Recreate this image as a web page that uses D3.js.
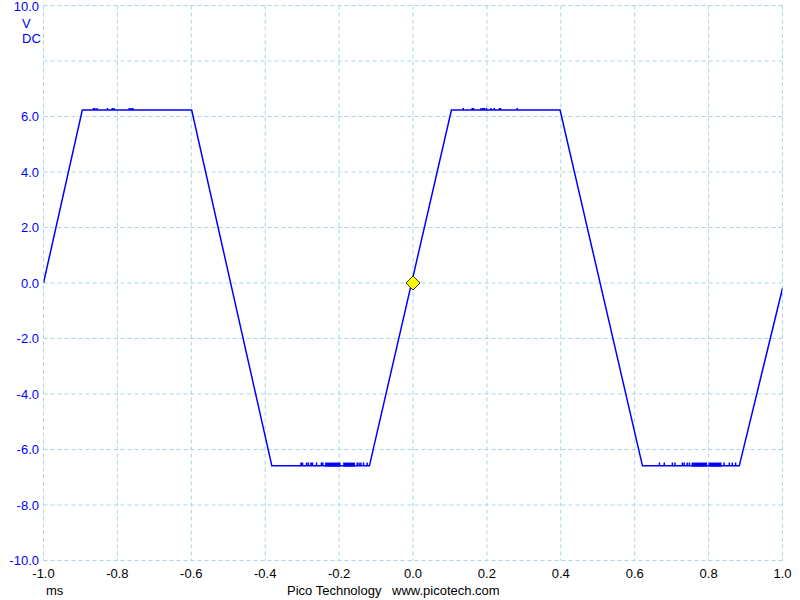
<!DOCTYPE html>
<html><head><meta charset="utf-8">
<script src="https://cdn.jsdelivr.net/npm/d3@7"></script>
<style>html,body{margin:0;padding:0;background:#fff;}svg{display:block;}</style>
</head><body>
<script>
// ---- data ----
const xTicks = [-1.0,-0.8,-0.6,-0.4,-0.2,0.0,0.2,0.4,0.6,0.8,1.0];
const yTicks = [10,8,6,4,2,0,-2,-4,-6,-8,-10];
const yLabelTicks = [10,6,4,2,0,-2,-4,-6,-8,-10];   // 8.0 is replaced by the unit labels
const unitLabels = ["V", "DC"];
// trace breakpoints (ms, V)
const traceTime  = [-1.0, -0.895, -0.599, -0.382, -0.118, 0.104, 0.398, 0.621, 0.883, 1.0];
const traceVolts = [ 0.0,  6.23,   6.23,  -6.59,  -6.59,  6.23,  6.23, -6.59, -6.59, -0.19];
const topLevel = 6.23, topGlitch = 6.31;
const botLevel = -6.59, botGlitch = -6.47;
// single-sample glitches on plateaus (ms)
const topGlitchTimes = [-0.865,-0.861,-0.855,-0.827,-0.814,-0.809,-0.768,-0.763,-0.758,
                        0.136,0.160,0.164,0.184,0.189,0.193,0.199,0.211,0.220,0.234,0.237,0.282];
const botGlitchTimes = [-0.303,-0.299,-0.288,-0.283,-0.276,-0.272,-0.261,-0.248,-0.244,
                        -0.151,-0.146,-0.141,-0.134,-0.124,
                        0.667,0.680,0.702,0.709,0.729,0.734,0.742,0.748,0.842,0.856,0.864,0.873];
// dense glitch bands on the low plateau (ms start, ms end)
const botGlitchBands = [[-0.238,-0.196],[-0.189,-0.157],[0.754,0.796],[0.800,0.835]];
const trigger = {t: 0.0, v: 0.0};

// ---- chart ----
const W = 800, H = 600;
const svg = d3.select("body").append("svg").attr("width", W).attr("height", H);
const x = d3.scaleLinear().domain([-1, 1]).range([43.5, 782.5]);
const y = d3.scaleLinear().domain([-10, 10]).range([560.5, 5.5]);
const gridColor = "#a6d6e3";
const font = "'Liberation Sans', Arial, sans-serif";

// grid
svg.append("g").selectAll("line").data(xTicks).join("line")
  .attr("x1", d => x(d)).attr("x2", d => x(d)).attr("y1", y(10)).attr("y2", y(-10))
  .attr("stroke", gridColor).attr("stroke-width", 1).attr("stroke-dasharray", "4,3");
svg.append("g").selectAll("line").data(yTicks).join("line")
  .attr("y1", d => y(d)).attr("y2", d => y(d)).attr("x1", x(-1)).attr("x2", x(1))
  .attr("stroke", gridColor).attr("stroke-width", 1).attr("stroke-dasharray", "4,3");

// y labels
svg.append("g").selectAll("text").data(yLabelTicks).join("text")
  .attr("x", 39).attr("y", d => Math.max(y(d), 6.5)).attr("dy", "0.35em")
  .attr("text-anchor", "end").attr("font-family", font).attr("font-size", 13)
  .attr("fill", "#0000ff").text(d => d.toFixed(1));
svg.append("g").selectAll("text").data(unitLabels).join("text")
  .attr("x", 22).attr("y", (d, i) => 27.5 + i * 15.5)
  .attr("font-family", font).attr("font-size", 13).attr("fill", "#0000ff").text(d => d);

// x labels
svg.append("g").selectAll("text").data(xTicks).join("text")
  .attr("x", d => x(d)).attr("y", 578).attr("text-anchor", "middle")
  .attr("font-family", font).attr("font-size", 13).attr("fill", "#000").text(d => d.toFixed(1));
svg.append("text").attr("x", 46).attr("y", 595).attr("font-family", font).attr("font-size", 13)
  .attr("fill", "#000").text("ms");
svg.append("text").attr("x", 287).attr("y", 595).attr("font-family", font).attr("font-size", 13)
  .attr("fill", "#000").text("Pico Technology");
svg.append("text").attr("x", 392).attr("y", 595).attr("font-family", font).attr("font-size", 13)
  .attr("fill", "#000").text("www.picotech.com");

// clip
svg.append("clipPath").attr("id", "clip").append("rect")
  .attr("x", x(-1)).attr("y", y(10)).attr("width", x(1) - x(-1)).attr("height", y(-10) - y(10));
const plot = svg.append("g").attr("clip-path", "url(#clip)");

// build trace points with glitches
let pts = traceTime.map((t, i) => [t, traceVolts[i]]);
const spikes = [];
topGlitchTimes.forEach(t => spikes.push([t, topLevel, topGlitch]));
botGlitchTimes.forEach(t => spikes.push([t, botLevel, botGlitch]));
spikes.forEach(s => { pts.push([s[0], s[1]]); pts.push([s[0], s[2]]); pts.push([s[0], s[1]]); });
pts = pts.map((p, i) => ({p, i})).sort((a, b) => a.p[0] - b.p[0] || a.i - b.i).map(o => o.p);

const line = d3.line().x(d => x(d[0])).y(d => y(d[1]));
plot.append("path").attr("d", line(pts)).attr("fill", "none")
  .attr("stroke", "#0000ff").attr("stroke-width", 1.5).attr("stroke-linejoin", "miter");

plot.append("g").selectAll("rect").data(botGlitchBands).join("rect")
  .attr("x", d => x(d[0])).attr("width", d => x(d[1]) - x(d[0]))
  .attr("y", y(botGlitch)).attr("height", y(botLevel) - y(botGlitch) + 0.75)
  .attr("fill", "#0000ff");

// trigger diamond
const cx = x(trigger.t), cy = y(trigger.v), r = 7;
svg.append("path")
  .attr("d", `M${cx},${cy - r}L${cx + r},${cy}L${cx},${cy + r}L${cx - r},${cy}Z`)
  .attr("fill", "#ffff00").attr("stroke", "#333300").attr("stroke-width", 1);
</script>
</body></html>
